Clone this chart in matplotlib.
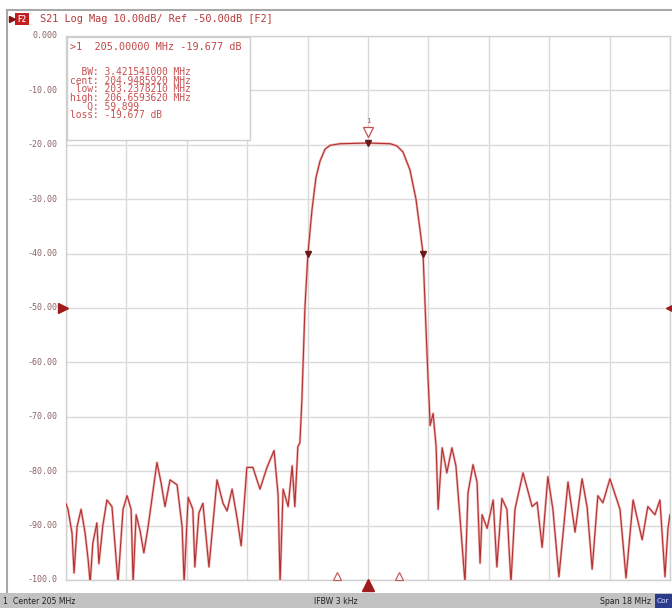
import matplotlib
matplotlib.use("Agg")
import matplotlib.pyplot as plt
from matplotlib.patches import Rectangle
from matplotlib.lines import Line2D

# ---- data ----
freq_mhz = [
    196.00, 196.06, 196.18, 196.24, 196.33, 196.45, 196.57, 196.66, 196.72, 196.80, 196.92, 196.98,
    197.10, 197.22, 197.37, 197.55, 197.70, 197.82, 197.94, 198.00, 198.09, 198.21, 198.32,
    198.44, 198.71, 198.83, 198.95, 199.10, 199.31, 199.46, 199.52, 199.64, 199.78, 199.84,
    199.96, 200.08, 200.26, 200.50, 200.68, 200.80, 200.95, 201.10, 201.22, 201.39, 201.57,
    201.78, 201.99, 202.20, 202.32, 202.38, 202.47, 202.62, 202.74, 202.82, 202.91, 202.97,
    203.03, 203.12, 203.21, 203.33, 203.45, 203.57, 203.72, 203.87, 204.17, 205.00, 205.66,
    205.86, 206.04, 206.25, 206.43, 206.55, 206.64, 206.73, 206.79, 206.82, 206.85, 206.94,
    207.03, 207.09, 207.21, 207.35, 207.50, 207.62, 207.74, 207.89, 207.98, 208.13, 208.25,
    208.34, 208.40, 208.55, 208.73, 208.84, 208.99, 209.14, 209.26, 209.38, 209.62, 209.89,
    210.04, 210.19, 210.36, 210.51, 210.69, 210.96, 211.17, 211.38, 211.53, 211.68, 211.85,
    212.00, 212.21, 212.51, 212.69, 212.90, 213.17, 213.34, 213.55, 213.70, 213.85, 213.94, 214.00,
]
s21_db = [
    -86.0, -87.0, -91.4, -98.7, -90.2, -87.0, -91.4, -96.3, -100.5, -93.2, -89.5, -97.0,
    -89.9, -85.3, -86.5, -100.5, -87.0, -84.5, -87.0, -100.5, -88.0, -91.0, -95.0,
    -90.5, -78.4, -82.0, -86.5, -81.6, -82.5, -90.2, -100.5, -84.8, -87.0, -97.6,
    -87.7, -85.9, -97.6, -81.6, -85.9, -87.3, -83.3, -88.7, -93.7, -79.3, -79.3,
    -83.3, -79.3, -76.2, -84.3, -100.5, -83.3, -86.5, -79.0, -86.5, -75.5, -74.8,
    -67.0, -50.0, -40.0, -32.0, -26.0, -23.0, -20.8, -20.1, -19.8, -19.677, -19.8,
    -20.2, -21.3, -24.6, -30.0, -35.6, -40.0, -54.0, -63.0, -67.0, -71.6, -69.4,
    -75.5, -87.0, -75.7, -80.3, -75.7, -79.0, -88.4, -100.5, -84.0, -78.8, -82.0,
    -96.9, -88.0, -90.5, -85.3, -97.6, -85.0, -87.0, -100.5, -87.0, -80.3, -86.5,
    -85.7, -94.0, -81.0, -87.0, -99.4, -82.0, -91.2, -81.4, -86.6, -98.0, -84.5,
    -85.8, -81.4, -87.0, -99.6, -85.3, -92.6, -86.5, -88.0, -85.3, -99.4, -90.5, -88.0,
]
y_ticks = [0, -10, -20, -30, -40, -50, -60, -70, -80, -90, -100]
y_tick_labels = ["0.000", "-10.00", "-20.00", "-30.00", "-40.00", "-50.00",
                 "-60.00", "-70.00", "-80.00", "-90.00", "-100.0"]
center_mhz = 205.0
span_mhz = 18.0
marker_freqs = [205.00, 203.21, 206.64]
marker_vals = [-19.677, -40.0, -40.0]
delta_freqs = [204.07, 205.91]
ref_level = -50.0
marker_lines = [
    ">1  205.00000 MHz -19.677 dB",
    "",
    "  BW: 3.421541000 MHz",
    "cent: 204.9485920 MHz",
    " low: 203.2378210 MHz",
    "high: 206.6593620 MHz",
    "   Q: 59.899",
    "loss: -19.677 dB",
]

W, H = 672, 608
fig = plt.figure(figsize=(W / 100, H / 100), dpi=100)
fig.patch.set_facecolor("white")

def fx(px):
    return px / W

def fy(py):
    return 1 - py / H

L, R, T, B = 66, 670, 36, 580
ax = fig.add_axes([fx(L), fy(B), fx(R) - fx(L), fy(T) - fy(B)])
ax.set_xlim(center_mhz - span_mhz / 2, center_mhz + span_mhz / 2)
ax.set_ylim(-100, 0)
ax.set_xticks([center_mhz - span_mhz / 2 + i * span_mhz / 10 for i in range(11)])
ax.set_yticks(y_ticks)
ax.grid(True, color="#dadada", lw=1.0)
ax.tick_params(length=0, labelbottom=False, labelleft=False)
for s in ax.spines.values():
    s.set_color("#d0d0d0")
    s.set_linewidth(1.0)
ax.set_axisbelow(True)

mono = "DejaVu Sans Mono"
for v, lab in zip(y_ticks, y_tick_labels):
    ax.text(-0.014, v, lab, transform=ax.get_yaxis_transform(), ha="right", va="center",
            fontsize=6.0, family=mono, color="#8a6464")

# trace: soft halo + core
ax.plot(freq_mhz, s21_db, color="#eeb4b4", lw=1.8, solid_joinstyle="round", zorder=3)
ax.plot(freq_mhz, s21_db, color="#b23030", lw=0.8, solid_joinstyle="round", zorder=4)

# markers on trace
ax.plot(marker_freqs, marker_vals, ls="none", marker="v", ms=4.5, color="#6a1818", zorder=5)
ax.plot([marker_freqs[0]], [-17.6], ls="none", marker="v", ms=7, mfc="white",
        mec="#c05050", mew=0.9, zorder=6)
ax.text(marker_freqs[0], -15.6, "1", ha="center", va="center", fontsize=5, color="#c05050",
        family=mono, zorder=6)

# bottom delta markers and stimulus marker
ax.plot(delta_freqs, [-99.2, -99.2], ls="none", marker="^", ms=6, mfc="white",
        mec="#c06060", mew=0.9, zorder=6, clip_on=False)
ax.plot([center_mhz], [-101.0], ls="none", marker="^", ms=9, color="#a01c1c",
        zorder=6, clip_on=False)

# reference level arrows
ax.plot([195.9], [ref_level], ls="none", marker=">", ms=7.5, color="#a01c1c", clip_on=False, zorder=6)
ax.plot([214.05], [ref_level], ls="none", marker="<", ms=8, color="#a01c1c", clip_on=False, zorder=6)

# marker info box
box = Rectangle((fx(67), fy(140)), fx(250) - fx(67), fy(37) - fy(140), transform=fig.transFigure,
                facecolor="white", edgecolor="#cfcfcf", lw=1.0, zorder=7)
fig.add_artist(box)
for i, line in enumerate(marker_lines):
    if not line:
        continue
    yy = 47 if i == 0 else 72 + (i - 2) * 8.7
    fig.text(fx(70), fy(yy), line, ha="left", va="center", fontsize=7.3 if i == 0 else 6.9,
             family=mono, color="#c04848" if i == 0 else "#c85050", zorder=8)

# outer frame lines
fig.add_artist(Line2D([fx(7), fx(672)], [fy(10), fy(10)], color="#a8a8a8", lw=1.5))
fig.add_artist(Line2D([fx(7), fx(7)], [fy(10), fy(592)], color="#a8a8a8", lw=1.5))

# header
fig.add_artist(Line2D([fx(12)], [fy(19)], marker=">", ms=5, color="#8a1010", ls="none"))
fig.add_artist(Rectangle((fx(15), fy(25)), fx(14), fy(13) - fy(25), transform=fig.transFigure,
                         facecolor="#c41e1e", edgecolor="none"))
fig.text(fx(22), fy(19), "F2", ha="center", va="center", fontsize=5.5, color="#ffdede",
         family=mono, fontweight="bold")
fig.text(fx(40), fy(19), "S21 Log Mag 10.00dB/ Ref -50.00dB [F2]", ha="left", va="center",
         fontsize=7.4, family=mono, color="#b83a3a")

# status bar
fig.add_artist(Rectangle((0, 0), 1, fy(593), transform=fig.transFigure,
                         facecolor="#c2c2c2", edgecolor="none"))
fig.text(fx(3), fy(601), "1  Center 205 MHz", ha="left", va="center", fontsize=5.6, color="#202020")
fig.text(fx(314), fy(601), "IFBW 3 kHz", ha="left", va="center", fontsize=5.6, color="#202020")
fig.text(fx(651), fy(601), "Span 18 MHz", ha="right", va="center", fontsize=5.6, color="#202020")
fig.add_artist(Rectangle((fx(655), fy(608)), fx(17), fy(594) - fy(608), transform=fig.transFigure,
                         facecolor="#2c3a8c", edgecolor="none"))
fig.text(fx(663), fy(601), "Cor", ha="center", va="center", fontsize=5.4, color="#dde4ff")

fig.savefig("out.png", dpi=100, facecolor="white")
